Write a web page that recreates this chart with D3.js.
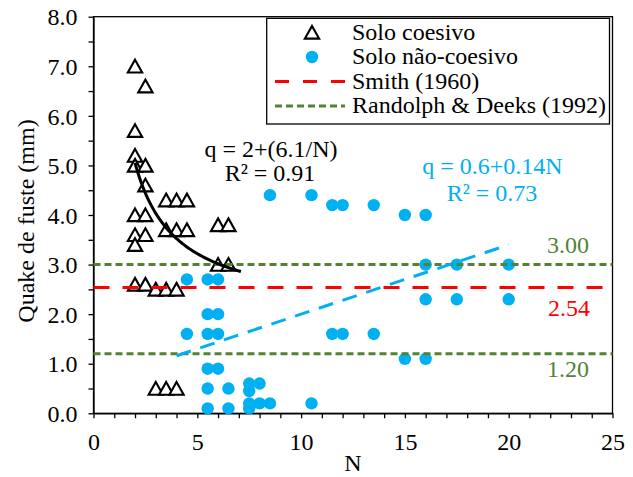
<!DOCTYPE html>
<html>
<head>
<meta charset="utf-8">
<script src="https://cdn.jsdelivr.net/npm/d3@7"></script>
<style>
  body { margin: 0; background: #fff; }
  svg { display: block; font-family: 'Liberation Serif', 'Times New Roman', serif; }
</style>
</head>
<body>
<svg id="chart" width="633" height="477"></svg>
<script>
// Solo coesivo (triangles)
const cohesiveN = [2, 2.5, 2, 2, 2, 2.5, 2.5, 3.5, 4, 4.5, 2, 2.5, 2, 2.5, 2, 3.5, 4, 4.5, 6, 6.5, 6, 6.5, 2, 2.5, 3, 3.5, 4, 3, 3.5, 4];
const cohesiveQ = [7.0, 6.6, 5.7, 5.2, 5.0, 5.0, 4.6, 4.3, 4.3, 4.3, 4.0, 4.0, 3.6, 3.6, 3.4, 3.7, 3.7, 3.7, 3.8, 3.8, 3.0, 3.0, 2.6, 2.6, 2.5, 2.5, 2.5, 0.5, 0.5, 0.5];

// Solo não-coesivo (circles)
const nonCohesiveN = [8.5, 4.5, 5.5, 6, 5.5, 6, 4.5, 5.5, 6, 5.5, 6, 5.5, 6.5, 7.5, 8, 7.5, 5.5, 6.5, 7.5, 8, 8.5, 7.5, 10.5, 10.5, 11.5, 12, 13.5, 15, 16, 16, 17.5, 20, 16, 17.5, 20, 11.5, 12, 13.5, 15, 16];
const nonCohesiveQ = [4.4, 2.7, 2.7, 2.7, 2.0, 2.0, 1.6, 1.6, 1.6, 0.9, 0.9, 0.5, 0.5, 0.6, 0.6, 0.45, 0.1, 0.1, 0.2, 0.2, 0.2, 0.1, 0.2, 4.4, 4.2, 4.2, 4.2, 4.0, 4.0, 3.0, 3.0, 3.0, 2.3, 2.3, 2.3, 1.6, 1.6, 1.6, 1.1, 1.1];

// reference values
const smithQ = [2.54];
const randolphQ = [3.00, 1.20];

// trendlines as printed on the chart
const cohesiveFit = [2, 6.1];        // q = a + b/N
const cohesiveFitRange = [2, 7.1];
const nonCohesiveFit = [0.6, 0.14];  // q = a + b*N
const nonCohesiveFitRange = [4, 20];

const legendLabels = ['Solo coesivo', 'Solo não-coesivo', 'Smith (1960)', 'Randolph & Deeks (1992)'];
const xTicks = d3.range(0, 25.01, 1);
const yTicks = d3.range(0, 8.01, 0.5);

const BLUE = '#00B0F0';
const RED = '#FF0000';
const GREEN = '#548235';

const plot = { left: 93.5, right: 612.5, top: 16.7, bottom: 413.3 };

const svg = d3.select('#chart');
svg.append('rect').attr('width', 633).attr('height', 477).attr('fill', '#fff');

const x = d3.scaleLinear().domain([0, 25]).range([plot.left, plot.right]);
const y = d3.scaleLinear().domain([0, 8]).range([plot.bottom, plot.top]);

// frame
svg.append('rect')
  .attr('x', plot.left).attr('y', plot.top)
  .attr('width', plot.right - plot.left).attr('height', plot.bottom - plot.top)
  .attr('fill', 'none').attr('stroke', '#000').attr('stroke-width', 1.3);

// axes
const xAxis = svg.append('g')
  .attr('transform', `translate(0, ${plot.bottom})`)
  .call(d3.axisBottom(x).tickValues(xTicks).tickSize(5).tickSizeOuter(0)
    .tickFormat(d => (d % 5 === 0 ? d : '')));
const yAxis = svg.append('g')
  .attr('transform', `translate(${plot.left}, 0)`)
  .call(d3.axisLeft(y).tickValues(yTicks).tickSize(5).tickSizeOuter(0)
    .tickFormat(d => (d % 1 === 0 ? d3.format('.1f')(d) : '')));

[xAxis, yAxis].forEach(g => {
  g.select('.domain').attr('stroke', '#000').attr('stroke-width', 1.3);
  g.selectAll('.tick line').attr('stroke', '#000').attr('stroke-width', 1.3);
  g.selectAll('.tick text')
    .attr('fill', '#000')
    .style('font-family', 'Liberation Serif, Times New Roman, serif')
    .style('font-size', '24px');
});
xAxis.selectAll('.tick text').attr('y', 37).attr('dy', 0);
yAxis.selectAll('.tick text').attr('x', -16).attr('dy', '0.34em');

svg.append('text')
  .attr('x', (plot.left + plot.right) / 2).attr('y', 471)
  .attr('text-anchor', 'middle').style('font-size', '24px').text('N');
svg.append('text')
  .attr('transform', 'translate(33.5, 221) rotate(-90)')
  .attr('text-anchor', 'middle').style('font-size', '24px').text('Quake de fuste (mm)');

// markers
const triSize = 80;
const triShift = Math.sqrt(triSize / (Math.sqrt(3) * 3)) / 2; // centre the bbox on the point
const triangle = d3.symbol().type(d3.symbolTriangle).size(triSize);
const cohesive = cohesiveN.map((n, i) => ({ n, q: cohesiveQ[i] }));
const nonCohesive = nonCohesiveN.map((n, i) => ({ n, q: nonCohesiveQ[i] }));

svg.append('g').selectAll('path')
  .data(cohesive)
  .join('path')
  .attr('d', triangle)
  .attr('transform', d => `translate(${x(d.n)}, ${y(d.q) + triShift}) scale(1.05, 1.08)`)
  .attr('fill', '#fff').attr('stroke', '#000').attr('stroke-width', 2);

svg.append('g').selectAll('circle')
  .data(nonCohesive)
  .join('circle')
  .attr('cx', d => x(d.n)).attr('cy', d => y(d.q)).attr('r', 6.2)
  .attr('fill', BLUE);

// reference lines
const hLine = (q, color, dash) => svg.append('line')
  .attr('x1', x(0)).attr('x2', x(25)).attr('y1', y(q)).attr('y2', y(q))
  .attr('stroke', color).attr('stroke-width', 3).attr('stroke-dasharray', dash);
smithQ.forEach(q => hLine(q, RED, '16 13'));
randolphQ.forEach(q => hLine(q, GREEN, '7 4'));

// trendlines
const powerPts = d3.range(cohesiveFitRange[0], cohesiveFitRange[1] + 0.001, 0.05)
  .map(n => [x(n), y(cohesiveFit[0] + cohesiveFit[1] / n)]);
svg.append('path')
  .attr('d', d3.line()(powerPts))
  .attr('fill', 'none').attr('stroke', '#000').attr('stroke-width', 3);

const linPts = nonCohesiveFitRange.map(n => [x(n), y(nonCohesiveFit[0] + nonCohesiveFit[1] * n)]);
svg.append('path')
  .attr('d', d3.line()(linPts))
  .attr('fill', 'none').attr('stroke', BLUE).attr('stroke-width', 3)
  .attr('stroke-dasharray', '15 10');

// equation labels
const label = (tx, ty, str, color, anchor) => svg.append('text')
  .attr('x', tx).attr('y', ty).attr('text-anchor', anchor || 'middle')
  .attr('fill', color).style('font-size', '24px').text(str);
label(271, 156.5, 'q = 2+(6.1/N)', '#000');
label(270, 180.5, 'R² = 0.91', '#000');
label(492.5, 174, 'q = 0.6+0.14N', BLUE);
label(492, 201, 'R² = 0.73', BLUE);

label(547, 253, d3.format('.2f')(randolphQ[0]), GREEN, 'start');
label(548, 316, d3.format('.2f')(smithQ[0]), RED, 'start');
label(547, 377, d3.format('.2f')(randolphQ[1]), GREEN, 'start');

// legend
const legend = svg.append('g');
legend.append('rect')
  .attr('x', 266.7).attr('y', 18.3).attr('width', 342.8).attr('height', 105.7)
  .attr('fill', '#fff').attr('stroke', '#000').attr('stroke-width', 1.3);
const rowY = [39.5, 64, 88.5, 113];
legendLabels.forEach((t, i) => {
  legend.append('text').attr('x', 352).attr('y', rowY[i]).style('font-size', '24px').text(t);
});
legend.append('path').attr('d', triangle)
  .attr('transform', `translate(312, ${rowY[0] - 7 + triShift}) scale(1.05, 1.08)`)
  .attr('fill', '#fff').attr('stroke', '#000').attr('stroke-width', 2);
legend.append('circle').attr('cx', 312).attr('cy', rowY[1] - 7).attr('r', 6.2).attr('fill', BLUE);
legend.append('line').attr('x1', 275).attr('x2', 345).attr('y1', rowY[2] - 7).attr('y2', rowY[2] - 7)
  .attr('stroke', RED).attr('stroke-width', 3).attr('stroke-dasharray', '14 14');
legend.append('line').attr('x1', 275).attr('x2', 345).attr('y1', rowY[3] - 7).attr('y2', rowY[3] - 7)
  .attr('stroke', GREEN).attr('stroke-width', 3).attr('stroke-dasharray', '7 4');
</script>
</body>
</html>
